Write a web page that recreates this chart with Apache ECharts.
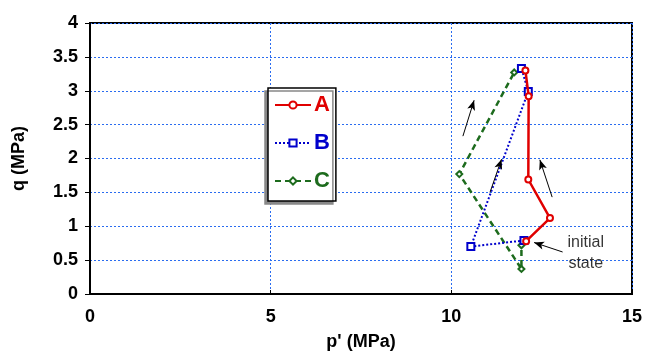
<!DOCTYPE html>
<html>
<head>
<meta charset="utf-8">
<script src="https://cdn.jsdelivr.net/npm/echarts@6/dist/echarts.min.js"></script>
<style>
  html, body { margin: 0; padding: 0; background: #fff; }
  #chart { width: 647px; height: 356px; }
</style>
</head>
<body>
<div id="chart"></div>
<script>
// stress paths, p' and q in MPa, starting from the initial state
const pathA = [[12.07, 0.78], [12.73, 1.12], [12.13, 1.69], [12.14, 2.92], [12.05, 3.30]];
const pathB = [[12.01, 0.79], [10.54, 0.70], [12.13, 2.99], [11.94, 3.33]];
const pathC = [[12.0, 0.79], [11.94, 0.72], [11.94, 0.37], [10.22, 1.77], [11.74, 3.27]];

// annotation arrows [from, to] in data units
const arrows = [
  [[10.32, 2.33], [10.63, 2.86]],
  [[11.07, 1.50], [11.39, 1.99]],
  [[12.79, 1.43], [12.45, 1.98]],
  [[13.08, 0.62], [12.29, 0.76]]
];
const noteText = 'initial\nstate';
const notePos = [13.72, 0.6];

const font = 'Liberation Sans, Arial, sans-serif';
const gridBlue = '#2a6cf0';

const chart = echarts.init(document.getElementById('chart'));

chart.setOption({
  animation: false,
  backgroundColor: '#fff',
  grid: {
    left: 90, right: 15, top: 23, bottom: 60,
    show: true,
    borderColor: '#000',
    borderWidth: 2
  },
  legend: {
    data: [
      { name: 'A', textStyle: { color: '#e00000' } },
      { name: 'B', textStyle: { color: '#0000cc' } },
      { name: 'C', textStyle: { color: '#1d6b1d' } }
    ],
    orient: 'vertical',
    left: 268,
    top: 88,
    padding: [6, 6, 9, 6],
    itemWidth: 36,
    itemHeight: 9,
    itemGap: 16,
    backgroundColor: '#fff',
    borderColor: '#000',
    borderWidth: 1.5,
    shadowColor: '#888',
    shadowBlur: 0,
    shadowOffsetX: -3,
    shadowOffsetY: 3,
    textStyle: { fontFamily: font, fontSize: 22, fontWeight: 'bold', padding: [0, 0, 0, -2] }
  },
  xAxis: {
    type: 'value',
    min: 0, max: 15, interval: 5,
    name: "p' (MPa)",
    nameLocation: 'middle',
    nameGap: 39,
    nameTextStyle: { fontFamily: font, fontSize: 18, fontWeight: 'bold', color: '#000' },
    axisLine: { show: true, lineStyle: { color: '#000', width: 2 } },
    axisTick: { show: true, inside: true, length: 4, lineStyle: { color: '#000' } },
    axisLabel: { fontFamily: font, fontSize: 18, fontWeight: 'bold', color: '#000', margin: 14 },
    splitLine: { show: true, lineStyle: { color: gridBlue, type: [2, 2], width: 1 } }
  },
  yAxis: {
    type: 'value',
    min: 0, max: 4, interval: 0.5,
    name: 'q (MPa)',
    nameLocation: 'middle',
    nameGap: 62,
    nameTextStyle: { fontFamily: font, fontSize: 18, fontWeight: 'bold', color: '#000' },
    axisLine: { show: true, lineStyle: { color: '#000', width: 2 } },
    axisTick: { show: true, length: 5, lineStyle: { color: '#000' } },
    axisLabel: { fontFamily: font, fontSize: 18, fontWeight: 'bold', color: '#000', margin: 12 },
    splitLine: { show: true, lineStyle: { color: gridBlue, type: [2, 2], width: 1 } }
  },
  series: [
    {
      name: 'A',
      type: 'line',
      data: pathA,
      color: '#e00000',
      symbol: 'emptyCircle',
      symbolSize: 6,
      lineStyle: { width: 2.5, type: 'solid' },
      itemStyle: { borderWidth: 1 },
      z: 4
    },
    {
      name: 'B',
      type: 'line',
      data: pathB,
      color: '#0000cc',
      symbol: 'emptyRect',
      symbolSize: 7,
      lineStyle: { width: 2, type: [2, 2] },
      itemStyle: { borderWidth: 1 },
      z: 3
    },
    {
      name: 'C',
      type: 'line',
      data: pathC,
      color: '#1d6b1d',
      symbol: 'emptyDiamond',
      symbolSize: 6,
      lineStyle: { width: 2.5, type: [6, 4] },
      itemStyle: { borderWidth: 1 },
      z: 2
    },
    {
      name: 'notes',
      type: 'scatter',
      data: [notePos],
      symbolSize: 0,
      silent: true,
      label: {
        show: true,
        formatter: noteText,
        position: 'inside',
        fontFamily: font,
        fontSize: 16,
        lineHeight: 21,
        color: '#000',
        align: 'center'
      },
      markLine: {
        silent: true,
        symbol: ['none', 'arrow'],
        symbolSize: [6, 10],
        label: { show: false },
        lineStyle: { color: '#000', width: 1, type: 'solid' },
        data: arrows.map(([a, b]) => [{ coord: a }, { coord: b }])
      }
    }
  ]
});
</script>
</body>
</html>
